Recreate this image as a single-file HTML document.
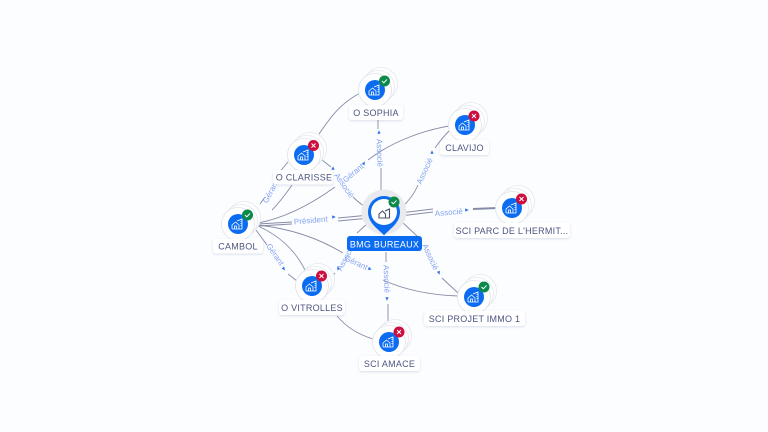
<!DOCTYPE html>
<html><head><meta charset="utf-8"><style>
html,body{margin:0;padding:0;background:#fbfdff}
svg{display:block}
text{font-family:"Liberation Sans",sans-serif}
.n{font-size:9px;fill:#4c5580;text-anchor:middle;letter-spacing:.25px}
.e{font-size:8px;fill:#86a3f0;text-anchor:middle}
.l{fill:none;stroke:#868ca6;stroke-width:.9}
.a{fill:#2f6fe8}
.i{fill:none;stroke:#fff;stroke-width:.8}
</style></head><body>
<svg width="768" height="432" viewBox="0 0 768 432" xmlns="http://www.w3.org/2000/svg">
<defs>
<filter id="s" x="-30%" y="-30%" width="160%" height="160%"><feDropShadow dx="0" dy="1" stdDeviation="1" flood-color="#8a94b0" flood-opacity=".3"/></filter>
<g id="node">
<circle cx="6" cy="-6" r="16.500" fill="#fff" stroke="#e4e7ee" stroke-width=".8"/>
<circle cx="3" cy="-3" r="16.500" fill="#fff" stroke="#e4e7ee" stroke-width=".8"/>
<circle cx="0" cy="0" r="16.500" fill="#fff" stroke="#e0e3eb" stroke-width=".8"/>
<circle r="10" fill="#0b6cf2"/>
<path class="i" d="M-6 5V1L-2.500-2 1 1V5H-6M-3.500 5V2H-1.500V5M-1-3 4-5V5H1M2.500-2.500H3.500M2.500-.5H3.500M2.500 1.500H3.500"/>
</g>
<g id="ok"><circle r="5.500" fill="#0b8a4b"/><path d="M-2.500 0-.7 1.800 2.500-1.500" fill="none" stroke="#fff" stroke-width="1"/></g>
<g id="ko"><circle r="5.500" fill="#cc0f3f"/><path d="M-2-2 2 2M2-2-2 2" fill="none" stroke="#fff" stroke-width="1"/></g>
<path id="ar" d="M-1.800-1.600 1.800 0-1.800 1.600Z" class="a"/>
</defs>
<rect width="768" height="432" fill="#fbfdff"/>

<g class="l">
<path d="M378 105V129M381 168V196"/>
<path d="M362 92C340 103 330 118 319 134M292 185C285 195 279 203 272 210"/>
<path d="M288 162 277 175M260 204L265 197"/>
<path d="M258 223C285 218 310 205 335 187M368 160C390 143 420 131 449 126"/>
<path d="M322 160L331 167M353 197C358 202 362 205 368 209"/>
<path d="M258 224 292 222M338 218 370 215M338 221 370 218M258 226 292 224"/>
<path d="M400 216 433 212M400 213 433 209M473 209.500 497 208.500M473 208.500 497 207.500"/>
<path d="M402 207C410 200 415 192 418 185M435 148C440 141 444 136 449 131"/>
<path d="M400 220 418 237M442 278 458 293"/>
<path d="M386 252V262M388 304V322"/>
<path d="M258 225C285 228 315 236 343 253M383 280C405 290 430 295 458 296"/>
<path d="M368 223 357 233M335 273 331 277"/>
<path d="M256 230 267 245M288 274 297 281"/>
<path d="M258 226C280 236 295 250 305 270M337 316C347 328 360 335 373 339"/>
</g>

<use href="#ar" transform="translate(379,132) rotate(-90)"/>
<use href="#ar" transform="translate(333,168) rotate(-90)"/>
<use href="#ar" transform="translate(364,163) rotate(-60)"/>
<use href="#ar" transform="translate(334,217)"/>
<use href="#ar" transform="translate(467,210)"/>
<use href="#ar" transform="translate(432,152) rotate(-90)"/>
<use href="#ar" transform="translate(439,273) rotate(70)"/>
<use href="#ar" transform="translate(387,299) rotate(90)"/>
<use href="#ar" transform="translate(370,269) rotate(25)"/>
<use href="#ar" transform="translate(338,268) rotate(-120)"/>
<use href="#ar" transform="translate(284,269) rotate(50)"/>
<use href="#ar" transform="translate(323,297) rotate(135)"/>

<text class="e" transform="translate(377,153) rotate(88)">Associé</text>
<text class="e" transform="translate(273,193) rotate(-62)">Gérant</text>
<text class="e" transform="translate(355,175) rotate(-40)">Gérant</text>
<text class="e" transform="translate(342,187) rotate(55)">Associé</text>
<text class="e" transform="translate(311,223) rotate(-5)">Président</text>
<text class="e" transform="translate(449,215) rotate(-5)">Associé</text>
<text class="e" transform="translate(427,172) rotate(-65)">Associé</text>
<text class="e" transform="translate(428,258) rotate(65)">Associé</text>
<text class="e" transform="translate(384,279) rotate(88)">Associé</text>
<text class="e" transform="translate(355,265) rotate(25)">Gérant</text>
<text class="e" transform="translate(348,259) rotate(-62)">Associé</text>
<text class="e" transform="translate(273,256) rotate(55)">Gérant</text>

<use href="#node" x="375" y="90"/><use href="#ok" x="384.500" y="81"/>
<use href="#node" x="304" y="155"/><use href="#ko" x="313.500" y="145.500"/>
<use href="#node" x="238" y="224"/><use href="#ok" x="247.500" y="215"/>
<use href="#node" x="312" y="286"/><use href="#ko" x="321.500" y="276"/>
<use href="#node" x="389" y="342"/><use href="#ko" x="399" y="332"/>
<use href="#node" x="474" y="297"/><use href="#ok" x="484" y="287"/>
<use href="#node" x="512" y="208"/><use href="#ko" x="521.500" y="199"/>
<use href="#node" x="465" y="125"/><use href="#ko" x="474" y="116"/>

<g fill="#fff" filter="url(#s)">
<rect x="349" y="105" width="54" height="15" rx="3"/>
<rect x="273" y="170" width="60" height="14.500" rx="3"/>
<rect x="213" y="239" width="50" height="14.500" rx="3"/>
<rect x="279" y="300" width="66" height="15" rx="3"/>
<rect x="359" y="356" width="61" height="15" rx="3"/>
<rect x="424" y="311" width="101" height="15" rx="3"/>
<rect x="454" y="223" width="116" height="15" rx="3"/>
<rect x="440" y="140" width="49" height="15" rx="3"/>
</g>
<text class="n" x="376" y="116">O SOPHIA</text>
<text class="n" x="304" y="180.500">O CLARISSE</text>
<text class="n" x="238" y="249.500">CAMBOL</text>
<text class="n" x="312" y="311">O VITROLLES</text>
<text class="n" x="389.500" y="367">SCI AMACE</text>
<text class="n" x="474.500" y="322">SCI PROJET IMMO 1</text>
<text class="n" x="512" y="234">SCI PARC DE L'HERMIT...</text>
<text class="n" x="464.500" y="151">CLAVIJO</text>

<circle cx="384" cy="212" r="22.500" fill="#e9eaed"/>
<path d="M384 235.500C380 230 368 224 368 212A16 16 0 0 1 400 212C400 224 388 230 384 235.500Z" fill="#0b6cf2"/>
<circle cx="384" cy="212" r="13" fill="#fff"/>
<path d="M379 218V214L382.500 211 385.500 214V218ZM385 211 389.500 209V218H386" fill="none" stroke="#4c5268" stroke-width="1.100"/>
<use href="#ok" x="394" y="202"/>
<rect x="347" y="236" width="75" height="15" rx="3" fill="#0b6cf2"/>
<text class="n" x="384.500" y="247.500" style="fill:#fff">BMG BUREAUX</text>
</svg>
</body></html>
